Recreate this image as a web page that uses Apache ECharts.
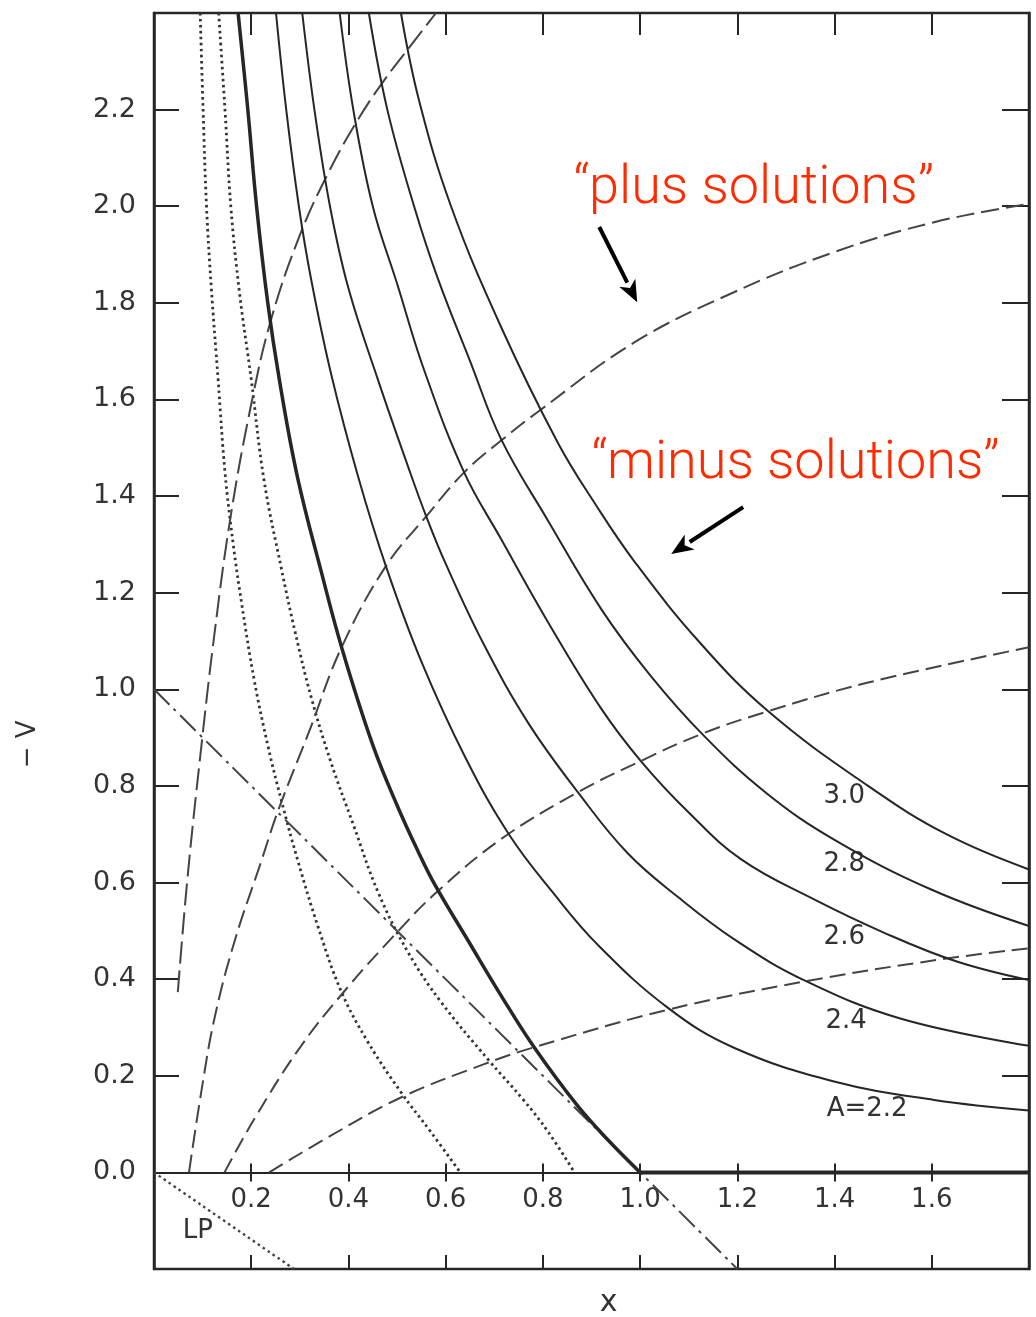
<!DOCTYPE html>
<html>
<head>
<meta charset="utf-8">
<title>-V versus x</title>
<script src="https://cdn.jsdelivr.net/npm/echarts@6.0.0/dist/echarts.min.js"></script>
<style>
  html, body { margin: 0; padding: 0; background: #fff; }
  #chart { width: 1036px; height: 1317px; }
</style>
</head>
<body>
<div id="chart"></div>
<script>
// tick labels that are printed
var xTickLabels = ['0.2', '0.4', '0.6', '0.8', '1.0', '1.2', '1.4', '1.6'];
var yTickLabels = ['0.0', '0.2', '0.4', '0.6', '0.8', '1.0', '1.2', '1.4', '1.6', '1.8', '2.0', '2.2'];

// solid curves ("minus solutions"), [x, -V]
var boundary = [[0.173, 2.40], [0.193, 2.20], [0.211, 2.00], [0.234, 1.80], [0.258, 1.64], [0.295, 1.44],
  [0.345, 1.24], [0.388, 1.08], [0.450, 0.885], [0.500, 0.76], [0.543, 0.665], [0.578, 0.595], [0.646, 0.48],
  [0.714, 0.366], [0.782, 0.259], [0.872, 0.137], [0.935, 0.066], [1.0, 0.0]];
var boundaryFlat = [[1.0, 0.0], [1.8, 0.0]];
var curveA22 = [[0.251, 2.40], [0.272, 2.20], [0.298, 2.00], [0.323, 1.85], [0.365, 1.65], [0.420, 1.44],
  [0.477, 1.255], [0.549, 1.06], [0.640, 0.86], [0.730, 0.70], [0.820, 0.58], [0.914, 0.47], [1.058, 0.34],
  [1.193, 0.258], [1.399, 0.188], [1.605, 0.150], [1.80, 0.128]];
var curveA24 = [[0.305, 2.40], [0.330, 2.20], [0.362, 2.00], [0.400, 1.83], [0.461, 1.64], [0.523, 1.46],
  [0.560, 1.358], [0.600, 1.26], [0.680, 1.09], [0.770, 0.93], [0.875, 0.783], [0.975, 0.66], [1.078, 0.57],
  [1.193, 0.483], [1.337, 0.398], [1.537, 0.318], [1.80, 0.262]];
var curveA26 = [[0.382, 2.40], [0.410, 2.20], [0.450, 2.00], [0.500, 1.84], [0.556, 1.66], [0.638, 1.449],
  [0.714, 1.311], [0.810, 1.14], [0.920, 0.96], [1.002, 0.851], [1.100, 0.745], [1.208, 0.648], [1.358, 0.565],
  [1.500, 0.497], [1.650, 0.437], [1.80, 0.398]];
var curveA28 = [[0.442, 2.40], [0.480, 2.20], [0.535, 2.00], [0.584, 1.85], [0.650, 1.68], [0.714, 1.518],
  [0.810, 1.35], [0.920, 1.166], [1.020, 1.03], [1.132, 0.903], [1.260, 0.785], [1.399, 0.689], [1.600, 0.585],
  [1.80, 0.51]];
var curveA30 = [[0.508, 2.40], [0.545, 2.22], [0.611, 2.00], [0.714, 1.75], [0.831, 1.51], [0.910, 1.38],
  [0.988, 1.265], [1.120, 1.10], [1.263, 0.955], [1.469, 0.80], [1.630, 0.70], [1.80, 0.627]];

// dashed curves ("plus solutions")
var plus1 = [[0.049, 0.373], [0.068, 0.60], [0.095, 0.86], [0.125, 1.12], [0.158, 1.36], [0.200, 1.59],
  [0.241, 1.766], [0.300, 1.94], [0.360, 2.072], [0.420, 2.18], [0.473, 2.26], [0.530, 2.335], [0.580, 2.40]];
var plus2 = [[0.072, 0.0], [0.097, 0.165], [0.124, 0.317], [0.165, 0.476], [0.220, 0.642], [0.255, 0.748],
  [0.320, 0.915], [0.385, 1.085], [0.477, 1.255], [0.560, 1.358], [0.638, 1.449], [0.718, 1.518], [0.792, 1.576],
  [0.988, 1.718], [1.193, 1.822], [1.399, 1.905], [1.605, 1.967], [1.80, 2.005]];
var plus3 = [[0.145, 0.0], [0.206, 0.11], [0.302, 0.261], [0.400, 0.385], [0.502, 0.499], [0.576, 0.575],
  [0.714, 0.69], [0.872, 0.787], [0.996, 0.849], [1.125, 0.907], [1.255, 0.952], [1.469, 1.014], [1.80, 1.087]];
var plus4 = [[0.237, 0.0], [0.350, 0.068], [0.508, 0.155], [0.679, 0.224], [0.782, 0.259], [1.058, 0.337],
  [1.337, 0.395], [1.619, 0.441], [1.80, 0.464]];

// dash-dot straight line and dotted curves
var dashDot = [[0.0, 1.0], [1.2, -0.2]];
var dotted1 = [[0.095, 2.40], [0.101, 2.20], [0.108, 2.00], [0.118, 1.83], [0.132, 1.64], [0.146, 1.45],
  [0.163, 1.30], [0.180, 1.18], [0.206, 1.02], [0.235, 0.88], [0.262, 0.77], [0.296, 0.645], [0.337, 0.51],
  [0.385, 0.375], [0.440, 0.27], [0.508, 0.166], [0.570, 0.083], [0.630, 0.0]];
var dotted2 = [[0.133, 2.40], [0.146, 2.20], [0.158, 2.00], [0.176, 1.82], [0.200, 1.642], [0.226, 1.435],
  [0.262, 1.25], [0.290, 1.12], [0.323, 0.985], [0.364, 0.849], [0.410, 0.72], [0.461, 0.58], [0.523, 0.455],
  [0.591, 0.352], [0.687, 0.234], [0.760, 0.15], [0.810, 0.085], [0.865, 0.0]];
var lpLine = [[0.0, 0.0], [0.288, -0.2]];

var curveLabels = ['3.0', '2.8', '2.6', '2.4', 'A=2.2', 'LP'];

var ink = '#262626';
var tickFont = 'DejaVu Sans';
var yMin = -0.2, yMax = 2.4;
var gridBox = { left: 154, right: 7, top: 13, bottom: 48 };
// a grid whose bottom edge sits on -V = 0, used for the labelled x axis
var plotH = 1317 - gridBox.top - gridBox.bottom;
var zeroBottom = gridBox.bottom + plotH * (0 - yMin) / (yMax - yMin);
var zeroBox = { left: gridBox.left, right: gridBox.right, top: gridBox.top, bottom: zeroBottom };

var chart = echarts.init(document.getElementById('chart'), null, { renderer: 'canvas' });

function fmt(list) {
  return function (v) {
    var s = v.toFixed(1);
    return list.indexOf(s) >= 0 ? s : '';
  };
}

function xAxisCfg(grid, pos, tickLen, inside, showLabel, showLine) {
  return {
    type: 'value', gridIndex: grid, min: 0, max: 1.8, interval: 0.2, position: pos,
    axisLine: { show: showLine, onZero: false, lineStyle: { color: ink, width: 2 } },
    axisTick: { show: true, inside: inside, length: tickLen, lineStyle: { color: ink, width: 2 } },
    axisLabel: { show: showLabel, margin: 15, formatter: fmt(xTickLabels), color: '#333', fontFamily: tickFont, fontSize: 26 },
    splitLine: { show: false }
  };
}

function hiddenY(grid, lo) {
  return { type: 'value', gridIndex: grid, min: lo, max: yMax, interval: 0.2, show: false };
}

function line(name, data, width, type, color) {
  return {
    name: name, type: 'line', data: data, xAxisIndex: 0, yAxisIndex: 0,
    symbol: 'none', smooth: 0.4,
    lineStyle: { color: color || ink, width: width, type: type, cap: 'butt' },
    silent: true
  };
}

var option = {
  animation: false,
  backgroundColor: '#fff',
  grid: [
    Object.assign({ show: true, borderColor: ink, borderWidth: 2.5, backgroundColor: 'transparent' }, gridBox),
    Object.assign({}, zeroBox),
    Object.assign({}, zeroBox)
  ],
  xAxis: [
    xAxisCfg(0, 'bottom', 14, true, false, true),
    xAxisCfg(0, 'top', 22, true, false, true),
    xAxisCfg(1, 'bottom', 9, true, true, true),
    xAxisCfg(2, 'bottom', 9, false, false, false)
  ],
  yAxis: [
    {
      type: 'value', gridIndex: 0, min: yMin, max: yMax, interval: 0.2, position: 'left',
      axisLine: { show: true, onZero: false, lineStyle: { color: ink, width: 2.5 } },
      axisTick: { show: true, inside: true, length: 25, lineStyle: { color: ink, width: 2 } },
      axisLabel: { margin: 18, formatter: fmt(yTickLabels), color: '#333', fontFamily: tickFont, fontSize: 27 },
      splitLine: { show: false }
    },
    {
      type: 'value', gridIndex: 0, min: yMin, max: yMax, interval: 0.2, position: 'right',
      axisLine: { show: true, onZero: false, lineStyle: { color: ink, width: 2.5 } },
      axisTick: { show: true, inside: true, length: 27, lineStyle: { color: ink, width: 2 } },
      axisLabel: { show: false },
      splitLine: { show: false }
    },
    hiddenY(1, 0),
    hiddenY(2, 0)
  ],
  series: [
    line('dotted1', dotted1, 2.8, [2.5, 3.5], '#333'),
    line('dotted2', dotted2, 2.8, [2.5, 3.5], '#333'),
    line('LP', lpLine, 2.4, [2.5, 3.5], '#444'),
    line('dashDot', dashDot, 2, [22, 6, 3, 6], '#444'),
    line('plus1', plus1, 2, [22, 7], '#444'),
    line('plus2', plus2, 2, [18, 7], '#444'),
    line('plus3', plus3, 2, [16, 7], '#444'),
    line('plus4', plus4, 2, [16, 7], '#444'),
    line('A=2.2', curveA22, 2, 'solid'),
    line('A=2.4', curveA24, 2, 'solid'),
    line('A=2.6', curveA26, 2, 'solid'),
    line('A=2.8', curveA28, 2, 'solid'),
    line('A=3.0', curveA30, 2, 'solid'),
    line('boundary', boundary, 3.5, 'solid'),
    line('boundaryFlat', boundaryFlat, 4, 'solid')
  ]
};

chart.setOption(option);

// annotations placed in data coordinates
function px(pt) { return chart.convertToPixel({ gridIndex: 0 }, pt); }

var labelAt = [[1.42, 0.778], [1.42, 0.638], [1.42, 0.487], [1.424, 0.313], [1.467, 0.130], [0.09, -0.122]];
var graphics = [];
curveLabels.forEach(function (t, i) {
  var p = px(labelAt[i]);
  graphics.push({
    type: 'text', x: p[0], y: p[1],
    style: { text: t, fill: '#333', font: '26px "DejaVu Sans"', align: 'center', verticalAlign: 'middle' }
  });
});

function arrow(from, to) {
  var a = px(from), b = px(to);
  var ang = Math.atan2(b[1] - a[1], b[0] - a[0]);
  var len = 22, half = 9;
  var bx = b[0] - len * Math.cos(ang), by = b[1] - len * Math.sin(ang);
  var nx = -Math.sin(ang) * half, ny = Math.cos(ang) * half;
  graphics.push({
    type: 'line', shape: { x1: a[0], y1: a[1], x2: bx, y2: by },
    style: { stroke: '#000', lineWidth: 4 }
  });
  graphics.push({
    type: 'polygon', shape: { points: [[b[0], b[1]], [bx + nx, by + ny], [bx + 6 * Math.cos(ang), by + 6 * Math.sin(ang)], [bx - nx, by - ny]] },
    style: { fill: '#000' }
  });
}
arrow([0.916, 1.957], [0.994, 1.801]);
arrow([1.212, 1.377], [1.064, 1.280]);

var redFont = '300 54px Roboto, "Liberation Sans", sans-serif';
var pPlus = px([0.863, 2.035]);
graphics.push({ type: 'text', x: pPlus[0], y: pPlus[1],
  style: { text: '\u201Cplus solutions\u201D', fill: '#FF2A00', font: redFont, align: 'left', verticalAlign: 'middle' } });
var pMinus = px([0.900, 1.465]);
graphics.push({ type: 'text', x: pMinus[0], y: pMinus[1],
  style: { text: '\u201Cminus solutions\u201D', fill: '#FF2A00', font: redFont, align: 'left', verticalAlign: 'middle' } });

// axis names
var pV = px([0, 0.886]);
graphics.push({ type: 'text', x: 28, y: pV[1], rotation: Math.PI / 2,
  style: { text: '\u2212 V', fill: '#333', font: '26px "DejaVu Sans"', align: 'center', verticalAlign: 'middle' } });
var pX = px([0.935, -0.2]);
graphics.push({ type: 'text', x: pX[0], y: 1303,
  style: { text: 'x', fill: '#333', font: '30px "DejaVu Sans"', align: 'center', verticalAlign: 'middle' } });

chart.setOption({ graphic: graphics });

window.addEventListener('resize', function () {
  chart.resize();
});
</script>
</body>
</html>
